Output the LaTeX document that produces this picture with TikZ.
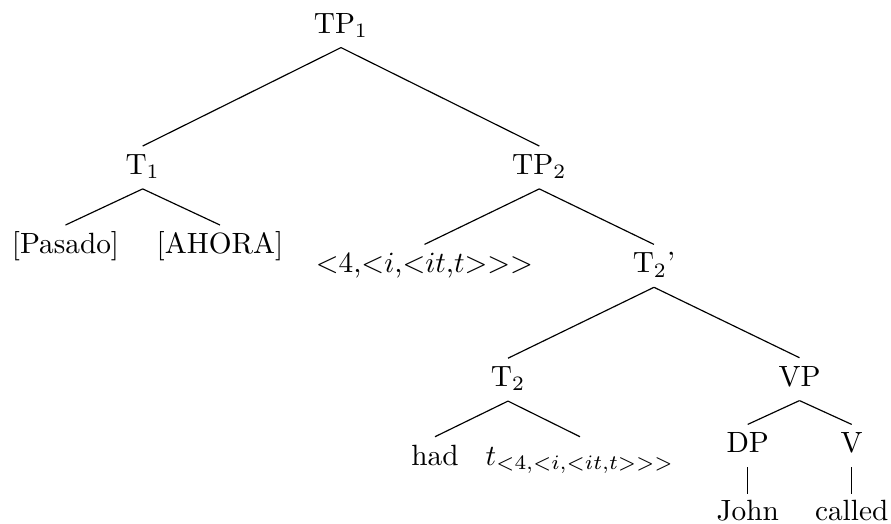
\documentclass[tikz,border=0pt]{standalone}
\begin{document}
\begin{tikzpicture}[x=0.3413pt,y=-0.3413pt,
  lab/.style={anchor=base,inner sep=0pt,text height=9.45pt,text depth=4.78pt},
  leaf/.style={lab,text height=8.6pt},
  edge/.style={line width=0.4pt}]
\useasboundingbox (0,0) rectangle (891,524);
\node[lab] (TP1) at (341,33) {TP$_1$};
\node[lab] (T1) at (142.7,174.3) {T$_1$};
\node[lab] (TP2) at (539.3,174.3) {TP$_2$};
\node[lab] (pas) at (65.5,253.3) {[Pasado]};
\node[lab] (aho) at (220,253.3) {[AHORA]};
\node[lab] (typ) at (424.5,272.7) {$<$4,$<$$i$,$<$$it$,$t$$>$$>$$>$};
\node[lab] (T2b) at (654,272.7) {T$_2$'};
\node[lab] (T2) at (508,386.5) {T$_2$};
\node[lab] (VP) at (799.5,386) {VP};
\node[lab] (had) at (435,465) {had};
\node[lab] (tr) at (580,465) {$t_{<4,<i,<it,t>>>}$};
\node[lab] (DP) at (747.7,452.7) {DP};
\node[lab] (V) at (851.7,452.7) {V};
\node[leaf] (john) at (747.7,520) {John};
\node[leaf] (called) at (851.7,520) {called};
\draw[edge] (TP1.south) -- (T1.north);
\draw[edge] (TP1.south) -- (TP2.north);
\draw[edge] (T1.south) -- (pas.north);
\draw[edge] (T1.south) -- (aho.north);
\draw[edge] (TP2.south) -- (typ.north);
\draw[edge] (TP2.south) -- (T2b.north);
\draw[edge] (T2b.south) -- (T2.north);
\draw[edge] (T2b.south) -- (VP.north);
\draw[edge] (T2.south) -- (had.north);
\draw[edge] (T2.south) -- (tr.north);
\draw[edge] (VP.south) -- (DP.north);
\draw[edge] (VP.south) -- (V.north);
\draw[edge] (DP.south) -- (john.north);
\draw[edge] (V.south) -- (called.north);
\end{tikzpicture}
\end{document}
